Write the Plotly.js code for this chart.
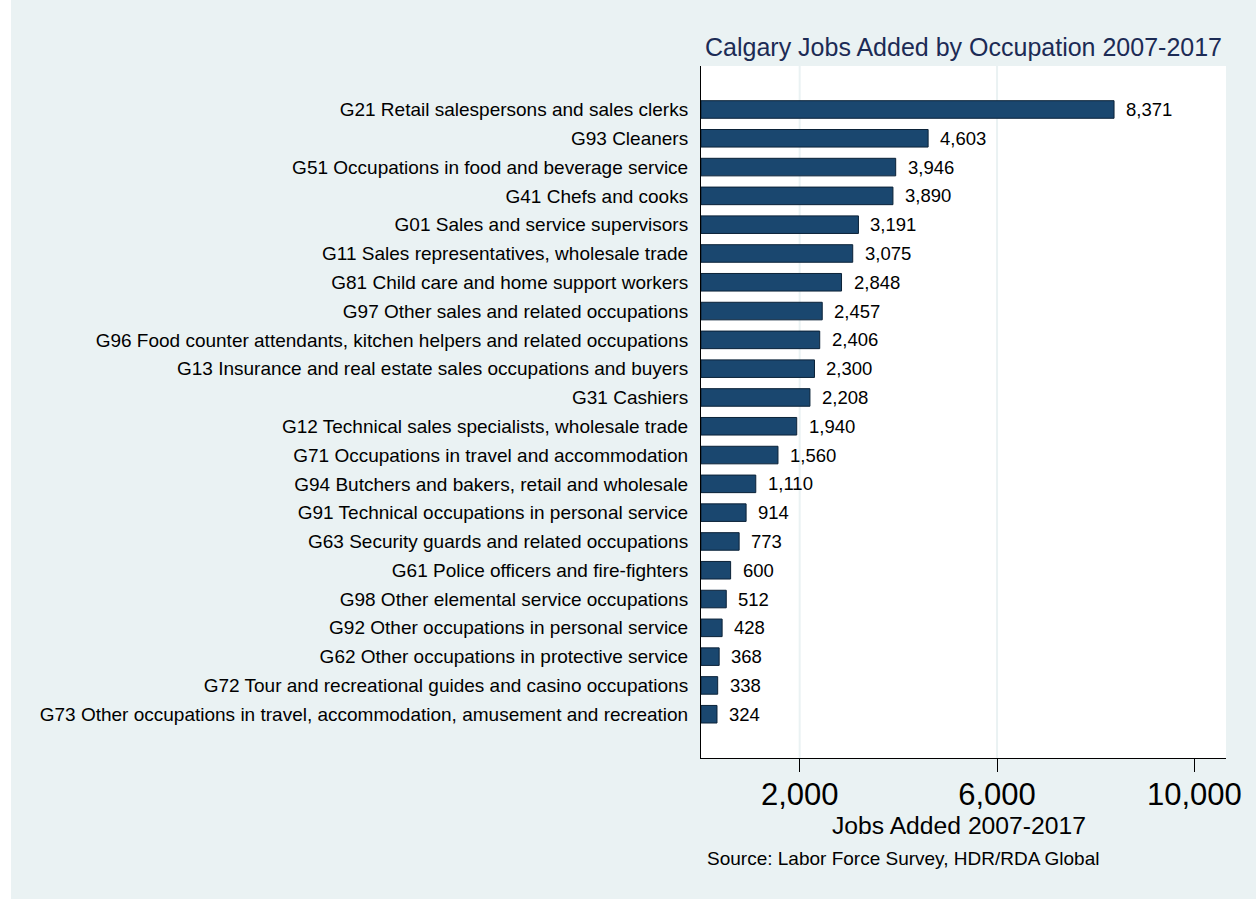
<!DOCTYPE html>
<html>
<head>
<meta charset="utf-8">
<script src="https://cdn.plot.ly/plotly-3.0.1.min.js"></script>
<style>
  html, body { margin: 0; padding: 0; background: #ffffff; }
  #chart { position: absolute; left: 11px; top: 0; width: 1245px; height: 899px; }
</style>
</head>
<body>
<div id="chart"></div>
<script>
const categories = [
  "G21 Retail salespersons and sales clerks",
  "G93 Cleaners",
  "G51 Occupations in food and beverage service",
  "G41 Chefs and cooks",
  "G01 Sales and service supervisors",
  "G11 Sales representatives, wholesale trade",
  "G81 Child care and home support workers",
  "G97 Other sales and related occupations",
  "G96 Food counter attendants, kitchen helpers and related occupations",
  "G13 Insurance and real estate sales occupations and buyers",
  "G31 Cashiers",
  "G12 Technical sales specialists, wholesale trade",
  "G71 Occupations in travel and accommodation",
  "G94 Butchers and bakers, retail and wholesale",
  "G91 Technical occupations in personal service",
  "G63 Security guards and related occupations",
  "G61 Police officers and fire-fighters",
  "G98 Other elemental service occupations",
  "G92 Other occupations in personal service",
  "G62 Other occupations in protective service",
  "G72 Tour and recreational guides and casino occupations",
  "G73 Other occupations in travel, accommodation, amusement and recreation"
];
const jobsAdded = [8371, 4603, 3946, 3890, 3191, 3075, 2848, 2457, 2406, 2300, 2208, 1940, 1560, 1110, 914, 773, 600, 512, 428, 368, 338, 324];
const xTickVals = [2000, 6000, 10000];
const xTickText = ["2,000", "6,000", "10,000"];
const gridVals = [2000, 6000];

const FONT = "Liberation Sans, Arial, Helvetica, sans-serif";

const trace = {
  type: "bar",
  orientation: "h",
  x: jobsAdded,
  y: categories,
  width: 0.61,
  marker: { color: "#1A476F", line: { color: "#0b2238", width: 1 } },
  hoverinfo: "x+y"
};

const fmt = v => v.toLocaleString("en-US");

const annotations = jobsAdded.map((v, i) => ({
  x: v, y: categories[i], xref: "x", yref: "y",
  text: fmt(v), showarrow: false, xanchor: "left", yanchor: "middle",
  xshift: 10, font: { family: FONT, size: 18.5, color: "#000000" }
}));

annotations.push({
  xref: "paper", yref: "paper", x: 0.491, y: -0.098,
  xanchor: "center", yanchor: "middle", showarrow: false,
  text: "Jobs Added 2007-2017",
  font: { family: FONT, size: 24.7, color: "#000000" }
});

annotations.push({
  xref: "paper", yref: "paper", x: 0, y: -0.145, xshift: 4,
  xanchor: "left", yanchor: "middle", showarrow: false,
  text: "Source: Labor Force Survey, HDR/RDA Global",
  font: { family: FONT, size: 19, color: "#000000" }
});

const shapes = gridVals.map(g => ({
  type: "line", xref: "x", yref: "paper", x0: g, x1: g, y0: 0, y1: 1,
  line: { color: "#EAF2F3", width: 2 }, layer: "below"
}));

const layout = {
  width: 1245, height: 899,
  paper_bgcolor: "#EAF2F3",
  plot_bgcolor: "#ffffff",
  margin: { l: 690, r: 30, t: 66, b: 141.3, pad: 0 },
  showlegend: false,
  title: {
    text: "Calgary Jobs Added by Occupation 2007-2017",
    font: { family: FONT, size: 25, color: "#1c2b55" },
    x: 0.5, xref: "paper", xanchor: "center",
    y: 1 - 47 / 899, yref: "container", yanchor: "middle"
  },
  xaxis: {
    range: [0, 10640],
    tickvals: xTickVals, ticktext: xTickText,
    ticks: "outside", ticklen: 13, tickwidth: 1, tickcolor: "#000000",
    ticklabelstandoff: -4,
    showline: true, linecolor: "#000000", linewidth: 1,
    showgrid: false, zeroline: false,
    tickfont: { family: FONT, size: 31, color: "#000000" },
    fixedrange: true
  },
  yaxis: {
    type: "category",
    categoryorder: "array", categoryarray: categories,
    range: [22.52, -1.51],
    ticks: "", showline: true, linecolor: "#000000", linewidth: 1,
    showgrid: false, zeroline: false,
    ticklabelstandoff: 8,
    tickfont: { family: FONT, size: 19, color: "#000000" },
    fixedrange: true
  },
  shapes: shapes,
  annotations: annotations
};

Plotly.newPlot("chart", [trace], layout, { displayModeBar: false, staticPlot: true });
</script>
</body>
</html>
